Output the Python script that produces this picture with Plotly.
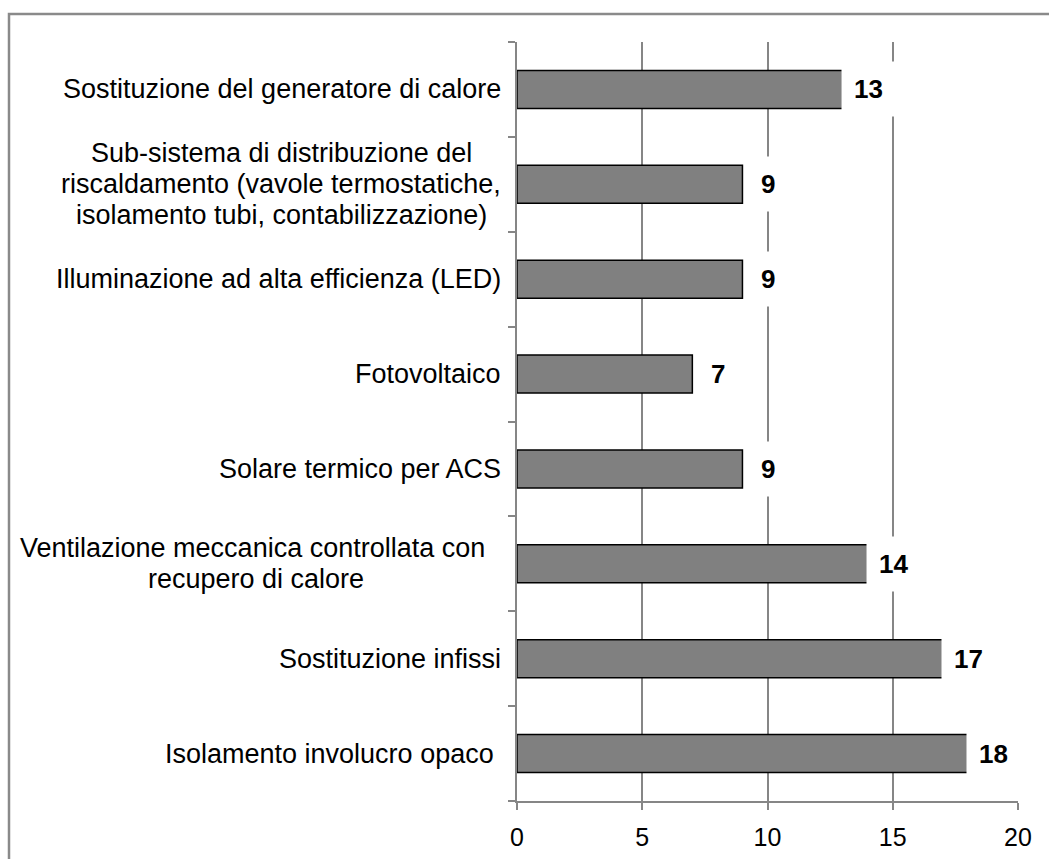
import plotly.graph_objects as go

# Data (bottom-to-top order, as plotted)
categories = [
    "Isolamento involucro opaco ",
    "Sostituzione infissi",
    "Ventilazione meccanica controllata con <br>recupero di calore",
    "Solare termico per ACS",
    "Fotovoltaico",
    "Illuminazione ad alta efficienza (LED)",
    "Sub-sistema di distribuzione del<br>riscaldamento (vavole termostatiche,<br>isolamento tubi, contabilizzazione)",
    "Sostituzione del generatore di calore",
]
values = [18, 17, 14, 9, 7, 9, 9, 13]
x_ticks = [0, 5, 10, 15, 20]

FONT = "Liberation Sans, Arial, sans-serif"
GRID = "#868686"
CAT_SIZE = 27
LINE_H = 31

# Arial advance widths (per 1000 em) used to centre multi-line labels
_W = {" ": 278, "(": 333, ")": 333, ",": 278, "-": 333, "A": 667, "C": 722,
      "D": 722, "E": 667, "F": 611, "I": 278, "L": 556, "S": 667, "V": 667,
      "a": 556, "b": 556, "c": 500, "d": 556, "e": 556, "f": 278, "g": 556,
      "h": 556, "i": 222, "l": 222, "m": 833, "n": 556, "o": 556, "p": 556,
      "r": 333, "s": 500, "t": 278, "u": 556, "v": 500, "z": 500, "k": 500, "q": 556}


def text_w(s, size):
    return sum(_W.get(ch, 556) for ch in s) / 1000.0 * size


fig = go.Figure()
fig.add_trace(go.Bar(
    y=categories,
    x=values,
    orientation="h",
    marker=dict(color="#808080", line=dict(color="#000000", width=1.5)),
    hoverinfo="skip",
))

annotations = []
# value labels
for c, v in zip(categories, values):
    annotations.append(dict(
        x=v, y=c, xref="x", yref="y",
        text=f"<b>{v}</b>", showarrow=False,
        xanchor="center", yanchor="middle", xshift=26,
        font=dict(family=FONT, size=26, color="#000000"),
        bgcolor="#ffffff", borderpad=12,
    ))
# category labels (lines centred within their block, block right-aligned)
for c in categories:
    lines = c.split("<br>")
    n = len(lines)
    block_w = max(text_w(l, CAT_SIZE) for l in lines)
    for i, line in enumerate(lines):
        lw = text_w(line, CAT_SIZE)
        annotations.append(dict(
            x=0, y=c, xref="paper", yref="y",
            text=line, showarrow=False,
            xanchor="right", yanchor="middle",
            xshift=-14 - (block_w - lw) / 2 - (8 if n == 2 else 0),
            yshift=((n - 1) / 2 - i) * LINE_H,
            font=dict(family=FONT, size=CAT_SIZE, color="#000000"),
        ))

fig.update_layout(
    width=1049, height=859,
    margin=dict(l=517, r=31, t=42, b=58, pad=0, autoexpand=False),
    paper_bgcolor="#ffffff", plot_bgcolor="#ffffff",
    showlegend=False,
    bargap=0.6,
    annotations=annotations,
    shapes=[dict(
        type="rect", xref="paper", yref="paper",
        x0=(9 - 517) / 501, x1=(1070 - 517) / 501,
        y0=(801 - 880) / 759, y1=(801 - 14) / 759,
        line=dict(color="#8a8a8a", width=2.5), fillcolor="rgba(0,0,0,0)",
        layer="below",
    )],
    xaxis=dict(
        range=[0, 20], tickvals=x_ticks, ticktext=[str(t) for t in x_ticks],
        showgrid=True, gridcolor=GRID, gridwidth=1.5,
        showline=True, linecolor=GRID, linewidth=1.5,
        ticks="outside", ticklen=7, tickcolor=GRID, tickwidth=1.5,
        ticklabelstandoff=6, automargin=False,
        tickfont=dict(family=FONT, size=25, color="#000000"),
        zeroline=False, fixedrange=True,
    ),
    yaxis=dict(
        type="category", categoryorder="array", categoryarray=categories,
        showticklabels=False, showgrid=False, automargin=False,
        showline=True, linecolor=GRID, linewidth=1.5,
        ticks="outside", ticklen=7, tickcolor=GRID, tickwidth=1.5,
        tickson="boundaries", zeroline=False, fixedrange=True,
    ),
)

fig.write_html("out.html", config={"displayModeBar": False},
               post_script="document.body.style.margin='0';")
